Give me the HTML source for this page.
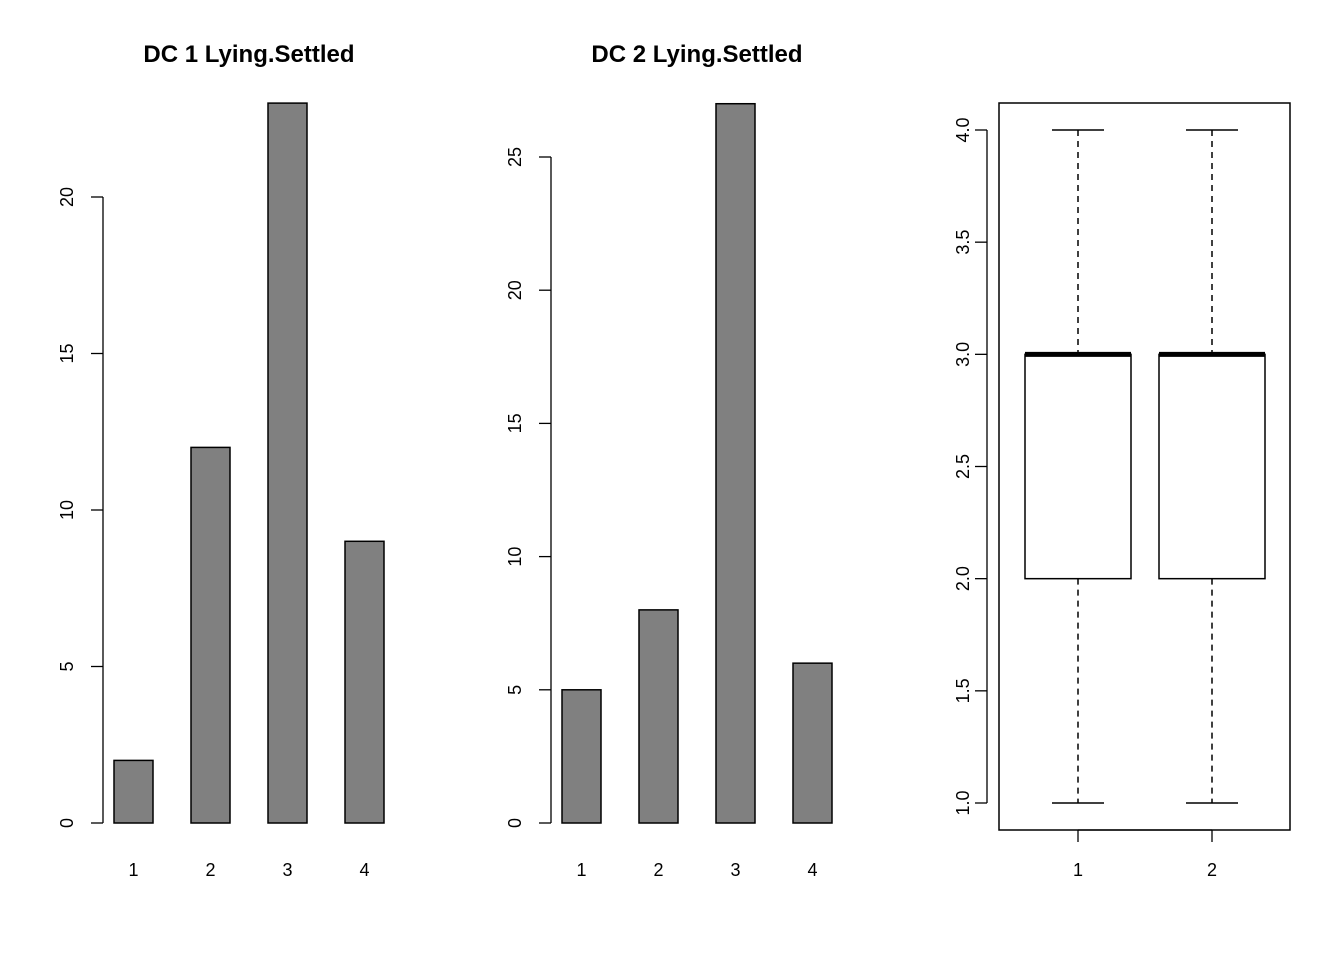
<!DOCTYPE html>
<html><head><meta charset="utf-8"><style>
html,body{margin:0;padding:0;background:#fff;}
svg{display:block;font-family:"Liberation Sans",Arial,sans-serif;}
</style></head><body>
<svg id="c" width="1344" height="960" xmlns="http://www.w3.org/2000/svg"></svg>
<script>
const cats1 = ["1","2","3","4"];
const vals1 = [2,12,23,9];
const ticks1 = [0,5,10,15,20];
const cats2 = ["1","2","3","4"];
const vals2 = [5,8,27,6];
const ticks2 = [0,5,10,15,20,25];
const boxCats = ["1","2"];
const boxMin = [1,1];
const boxQ1 = [2,2];
const boxMed = [3,3];
const boxQ3 = [3,3];
const boxMax = [4,4];
const ticks3 = [1.0,1.5,2.0,2.5,3.0,3.5,4.0];

const svg = document.getElementById('c');
const NS = "http://www.w3.org/2000/svg";
function mk(tag, attrs, parent){
  const e = document.createElementNS(NS, tag);
  for (const k in attrs) e.setAttribute(k, attrs[k]);
  (parent||svg).appendChild(e);
  return e;
}
function txt(s, x, y, opts, parent){
  const t = mk('text', Object.assign({x:x, y:y, 'text-anchor':'middle', 'font-size':18, fill:'#000'}, opts||{}), parent);
  t.textContent = s;
  return t;
}

function barPanel(name, cats, vals, ticks, axisX, x0, slot, bw, unit, title, titleX){
  const g = mk('g', {});
  
  
  const base = 823;
  const y = v => base - v*unit;
  const tt = txt(title, titleX, 62, {'font-weight':'bold','font-size':24}, g);
  
  
  const ax = mk('g', {}, g);
  
  
  mk('line', {x1:axisX, x2:axisX, y1:y(ticks[0]), y2:y(ticks[ticks.length-1]), stroke:'#000', 'stroke-width':1.3}, ax);
  ticks.forEach(v=>{
    mk('line', {x1:axisX-12, x2:axisX, y1:y(v), y2:y(v), stroke:'#000', 'stroke-width':1.3}, ax);
    const l = txt(String(v), axisX-30, y(v), {transform:`rotate(-90 ${axisX-30} ${y(v)})`}, ax);
    
    
  });
  cats.forEach((c,i)=>{
    const bx = x0 + i*slot;
    const r = mk('rect', {x:bx, y:y(vals[i]), width:bw, height:vals[i]*unit, fill:'#808080', stroke:'#000', 'stroke-width':1.5}, g);
    
    
    const l = txt(c, bx+bw/2, 876, {}, g);
    
    
  });
}
barPanel('panel-dc1', cats1, vals1, ticks1, 103, 114, 77, 39, (823-197)/20, 'DC 1 Lying.Settled', 249);
barPanel('panel-dc2', cats2, vals2, ticks2, 551, 562, 77, 39, (823-157)/25, 'DC 2 Lying.Settled', 697);

const g3 = mk('g', {});


const yb = v => 803 - (v-1)*(803-130)/3;
const frame = mk('rect', {x:999, y:103, width:291, height:727, fill:'none', stroke:'#000', 'stroke-width':1.5}, g3);


mk('line', {x1:987, x2:987, y1:yb(ticks3[0]), y2:yb(ticks3[ticks3.length-1]), stroke:'#000', 'stroke-width':1.3}, g3);
ticks3.forEach(v=>{
  mk('line', {x1:975, x2:987, y1:yb(v), y2:yb(v), stroke:'#000', 'stroke-width':1.3}, g3);
  const l = txt(v.toFixed(1), 969, yb(v), {transform:`rotate(-90 969 ${yb(v)})`}, g3);
  
  
});
const centers = [1078, 1212];
const halfW = 53, capW = 26;
boxCats.forEach((c,i)=>{
  const cx = centers[i];
  const bg = mk('g', {}, g3);
  
  
  mk('line', {x1:cx, x2:cx, y1:yb(boxMax[i]), y2:yb(boxQ3[i]), stroke:'#000', 'stroke-width':1.5, 'stroke-dasharray':'6,5'}, bg);
  mk('line', {x1:cx, x2:cx, y1:yb(boxQ1[i]), y2:yb(boxMin[i]), stroke:'#000', 'stroke-width':1.5, 'stroke-dasharray':'6,5'}, bg);
  mk('line', {x1:cx-capW, x2:cx+capW, y1:yb(boxMax[i]), y2:yb(boxMax[i]), stroke:'#000', 'stroke-width':1.5}, bg);
  mk('line', {x1:cx-capW, x2:cx+capW, y1:yb(boxMin[i]), y2:yb(boxMin[i]), stroke:'#000', 'stroke-width':1.5}, bg);
  mk('rect', {x:cx-halfW, y:yb(boxQ3[i]), width:halfW*2, height:yb(boxQ1[i])-yb(boxQ3[i]), fill:'#fff', stroke:'#000', 'stroke-width':1.5}, bg);
  mk('line', {x1:cx-halfW, x2:cx+halfW, y1:yb(boxMed[i]), y2:yb(boxMed[i]), stroke:'#000', 'stroke-width':5}, bg);
  mk('line', {x1:cx, x2:cx, y1:830, y2:842, stroke:'#000', 'stroke-width':1.3}, g3);
  const l = txt(c, cx, 876, {}, g3);
  
  
});
mk('line', {x1:centers[0], x2:centers[1], y1:830, y2:830, stroke:'#000', 'stroke-width':1.3}, g3);
</script>
</body></html>
